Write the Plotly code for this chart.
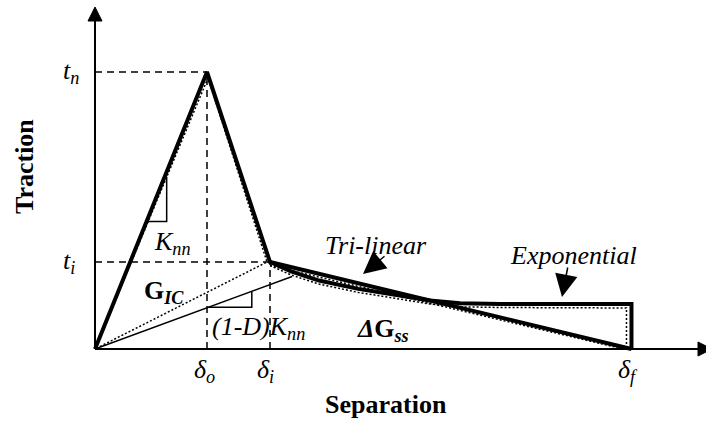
import plotly.graph_objects as go

# ---- traction-separation law (normalised units) ----
delta_o = 1.0      # onset separation
delta_i = 1.5625   # knee separation
delta_f = 4.79     # final separation
t_n = 1.0          # peak traction
t_i = 0.314        # knee traction

trilinear_sep = [0.0, delta_o, delta_i, delta_f]
trilinear_trac = [0.0, t_n, t_i, 0.0]

# exponential softening branch, levelling off to a plateau
exp_sep = [1.5625, 1.75, 2.0, 2.35, 2.72, 2.99, 3.26, 3.62, 4.79, 4.79]
exp_trac = [0.314, 0.280, 0.247, 0.217, 0.193, 0.175, 0.165, 0.1625, 0.1625, 0.0]

# unloading line with reduced stiffness (1-D)K_nn
unload_sep = [0.0, 1.76]
unload_trac = [0.0, 0.262]

# ---- page geometry: pixels per data unit ----
W, H = 706, 423
X0_PX, Y0_PX = 95, 349
SX, SY = 112.0, 277.0


def dx(px):
    return px / SX


def dy(px):
    return px / SY


x_range = [-X0_PX / SX, (W - X0_PX) / SX]
y_range = [-(H - Y0_PX) / SY, Y0_PX / SY]

FONT = "Liberation Serif"
BLACK = "black"

fig = go.Figure()


def line(xs, ys, width=1.5, dash="solid"):
    fig.add_trace(go.Scatter(x=xs, y=ys, mode="lines",
                             line=dict(color=BLACK, width=width, dash=dash),
                             hoverinfo="skip", showlegend=False))


def filled(xs, ys):
    fig.add_trace(go.Scatter(x=xs, y=ys, mode="lines", fill="toself",
                             fillcolor=BLACK, line=dict(color=BLACK, width=1),
                             hoverinfo="skip", showlegend=False))


# ---- axes with arrowheads ----
y_tip = dy(Y0_PX - 7)
x_tip = dx(W + 6 - X0_PX)
line([0, 0], [0, y_tip - dy(12)], width=2)
filled([-dx(7), dx(7), 0, -dx(7)], [y_tip - dy(14), y_tip - dy(14), y_tip, y_tip - dy(14)])
line([0, x_tip - dx(12)], [0, 0], width=2)
filled([x_tip - dx(14), x_tip - dx(14), x_tip, x_tip - dx(14)],
       [-dy(7), dy(7), 0, -dy(7)])

# ---- dashed guide lines ----
DASH = "7px,5px"
line([0, delta_o], [t_n, t_n], dash=DASH)
line([delta_o, delta_o], [0, t_n], dash=DASH)
line([0, delta_i], [t_i, t_i], dash=DASH)
line([delta_i, delta_i], [0, t_i], dash=DASH)

# ---- dotted outlines of the energy areas ----
DOT = "2px,2px"
line([0, delta_o + dx(1), delta_i - dx(3), 0],
     [0, t_n - dy(6), t_i, 0], dash=DOT)
line([delta_i, delta_f - dx(8)], [t_i - dy(3.5), 0], dash=DOT)
dot_exp_x = exp_sep[:-2] + [delta_f - dx(5), delta_f - dx(5)]
dot_exp_y = [v - dy(3.5) for v in exp_trac[:-2]] + [exp_trac[-2] - dy(4), 0]
line(dot_exp_x, dot_exp_y, dash=DOT)

# ---- unloading line and stiffness triangles ----
line(unload_sep, unload_trac, width=1.5)
k_unload = unload_trac[1] / unload_sep[1]
tri_x0, tri_x1 = delta_o + dx(1), 1.40
tri_y = k_unload * delta_o + dy(0.5)
line([tri_x0, tri_x1, tri_x1], [tri_y, tri_y, k_unload * tri_x1])

k_load = t_n / delta_o
kx0, kx1 = 0.46, 0.64
line([kx0, kx1, kx1], [k_load * kx0, k_load * kx0, k_load * kx1 - dy(5)])

# ---- the two softening laws (thick) ----
line(trilinear_sep, trilinear_trac, width=4)
line(exp_sep, exp_trac, width=4)

# ---- text ----
def label(x, y, text, size=26, xanchor="left", yanchor="middle", xref="x", yref="y",
          xshift=0, yshift=0, angle=0):
    fig.add_annotation(x=x, y=y, text=text, showarrow=False, xref=xref, yref=yref,
                       xanchor=xanchor, yanchor=yanchor, xshift=xshift, yshift=yshift,
                       textangle=angle, font=dict(family=FONT, size=size, color=BLACK))


label(0, t_n, "<i>t<sub>n</sub></i>", xanchor="right", xshift=-14)
label(0, t_i, "<i>t<sub>i</sub></i>", xanchor="right", xshift=-18)
label(delta_o, 0, "<i>δ<sub>o</sub></i>", xanchor="center", yanchor="top", xshift=-3, yshift=-4)
label(delta_i, 0, "<i>δ<sub>i</sub></i>", xanchor="center", yanchor="top", xshift=-5, yshift=-4)
label(delta_f, 0, "<i>δ<sub>f</sub></i>", xanchor="center", yanchor="top", xshift=-3, yshift=-4)

label(dx(152 - X0_PX), dy(Y0_PX - 243), "<i>K<sub>nn</sub></i>")
label(dx(142 - X0_PX), dy(Y0_PX - 292), "<b>G<sub><i>IC</i></sub></b>")
label(dx(210 - X0_PX), dy(Y0_PX - 328), "<i>(1-D)K<sub>nn</sub></i>")
label(dx(355 - X0_PX), dy(Y0_PX - 330), "<b><i>Δ</i>G<sub><i>ss</i></sub></b>")
label(dx(323 - X0_PX), dy(Y0_PX - 245), "<i>Tri-linear</i>")
label(dx(508 - X0_PX), dy(Y0_PX - 255), "<i>Exponential</i>")

label(dx(386 - X0_PX), dy(Y0_PX - 404), "<b>Separation</b>", xanchor="center")
label(dx(24 - X0_PX), dy(Y0_PX - 167), "<b>Traction</b>", xanchor="center", angle=-90)

# pointer arrows to the two curves
for tip, tail in [((363, 274), (386, 255)), ((562, 297), (568, 266))]:
    fig.add_annotation(x=dx(tip[0] - X0_PX), y=dy(Y0_PX - tip[1]),
                       ax=dx(tail[0] - X0_PX), ay=dy(Y0_PX - tail[1]),
                       xref="x", yref="y", axref="x", ayref="y", text="",
                       showarrow=True, arrowhead=2, arrowsize=3, arrowwidth=1.5,
                       arrowcolor=BLACK)

fig.update_xaxes(range=x_range, visible=False, fixedrange=True)
fig.update_yaxes(range=y_range, visible=False, fixedrange=True)
fig.update_layout(width=W, height=H, margin=dict(l=0, r=0, t=0, b=0),
                  paper_bgcolor="white", plot_bgcolor="white", showlegend=False)

fig.write_html("out.html")
